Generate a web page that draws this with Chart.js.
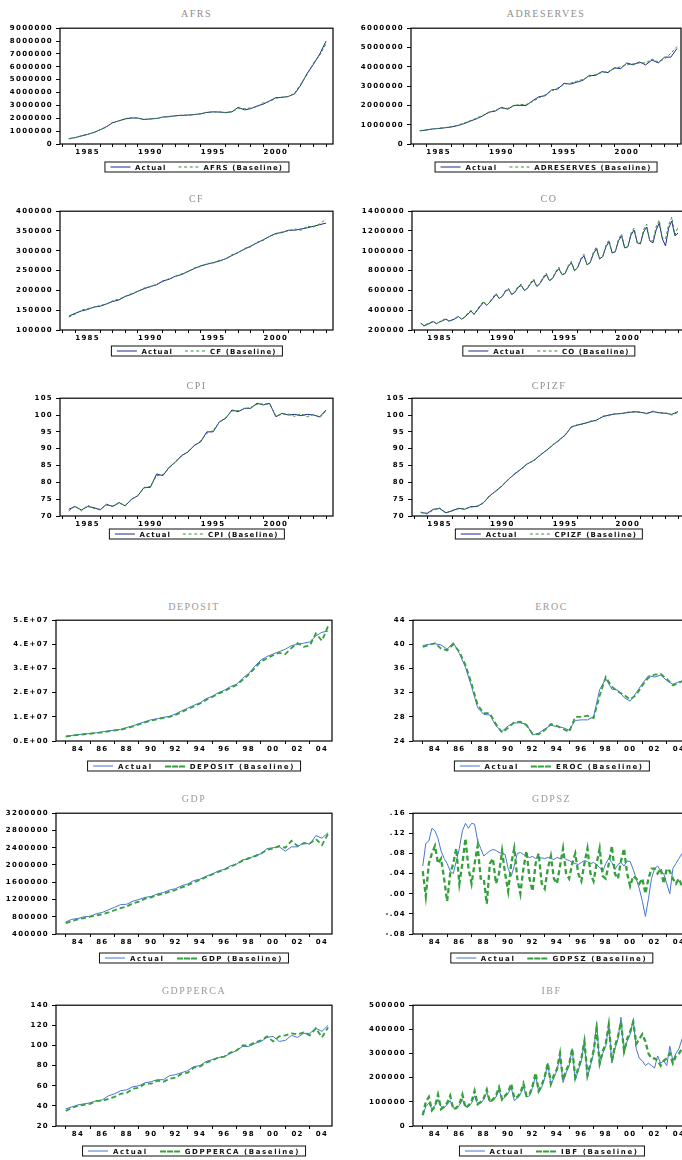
<!DOCTYPE html>
<html>
<head>
<meta charset="utf-8">
<title>Actual vs Baseline</title>
<script src="https://cdn.jsdelivr.net/npm/chart.js@4.4.1/dist/chart.umd.min.js"></script>
<style>
  html, body { margin: 0; padding: 0; background: #fff; }
  #page { position: relative; width: 682px; height: 1160px; overflow: hidden; background: #fff; }
  #page canvas { position: absolute; }
  .ttl { position: absolute; transform: translate(-50%, -50%); font: 10px "Liberation Serif", "DejaVu Serif", serif; color: #8e8e8e; letter-spacing: 1.5px; white-space: nowrap; }
  .lgd { position: absolute; transform: translate(-50%, -50%); box-sizing: border-box; height: 11px; border: 1.5px solid #111; padding: 0 5px; display: flex; align-items: center; white-space: nowrap; font: bold 7px "DejaVu Sans", sans-serif; color: #111; }
  .lgd .smp { display: inline-block; width: 20px; height: 0; margin-right: 5px; }
  .lgd .gap { display: inline-block; width: 12px; }
</style>
</head>
<body>
<div id="page"></div>
<script>
// ---- time axes ----
const topSemiYears = [1983.5, 1984, 1984.5, 1985, 1985.5, 1986, 1986.5, 1987, 1987.5, 1988, 1988.5,
  1989, 1989.5, 1990, 1990.5, 1991, 1991.5, 1992, 1992.5, 1993, 1993.5, 1994, 1994.5, 1995, 1995.5,
  1996, 1996.5, 1997, 1997.5, 1998, 1998.5, 1999, 1999.5, 2000, 2000.5, 2001, 2001.5, 2002, 2002.5,
  2003, 2003.5, 2004];
const topQuarterYears = [1983.5, 1983.75,
  1984, 1984.25, 1984.5, 1984.75, 1985, 1985.25, 1985.5, 1985.75,
  1986, 1986.25, 1986.5, 1986.75, 1987, 1987.25, 1987.5, 1987.75,
  1988, 1988.25, 1988.5, 1988.75, 1989, 1989.25, 1989.5, 1989.75,
  1990, 1990.25, 1990.5, 1990.75, 1991, 1991.25, 1991.5, 1991.75,
  1992, 1992.25, 1992.5, 1992.75, 1993, 1993.25, 1993.5, 1993.75,
  1994, 1994.25, 1994.5, 1994.75, 1995, 1995.25, 1995.5, 1995.75,
  1996, 1996.25, 1996.5, 1996.75, 1997, 1997.25, 1997.5, 1997.75,
  1998, 1998.25, 1998.5, 1998.75, 1999, 1999.25, 1999.5, 1999.75,
  2000, 2000.25, 2000.5, 2000.75, 2001, 2001.25, 2001.5, 2001.75,
  2002, 2002.25, 2002.5, 2002.75, 2003, 2003.25, 2003.5, 2003.75,
  2004];
const botSemiYears = [1983, 1983.5, 1984, 1984.5, 1985, 1985.5, 1986, 1986.5, 1987, 1987.5, 1988,
  1988.5, 1989, 1989.5, 1990, 1990.5, 1991, 1991.5, 1992, 1992.5, 1993, 1993.5, 1994, 1994.5, 1995,
  1995.5, 1996, 1996.5, 1997, 1997.5, 1998, 1998.5, 1999, 1999.5, 2000, 2000.5, 2001, 2001.5, 2002,
  2002.5, 2003, 2003.5, 2004, 2004.5];
const botQuarterYears = [
  1983, 1983.25, 1983.5, 1983.75, 1984, 1984.25, 1984.5, 1984.75,
  1985, 1985.25, 1985.5, 1985.75, 1986, 1986.25, 1986.5, 1986.75,
  1987, 1987.25, 1987.5, 1987.75, 1988, 1988.25, 1988.5, 1988.75,
  1989, 1989.25, 1989.5, 1989.75, 1990, 1990.25, 1990.5, 1990.75,
  1991, 1991.25, 1991.5, 1991.75, 1992, 1992.25, 1992.5, 1992.75,
  1993, 1993.25, 1993.5, 1993.75, 1994, 1994.25, 1994.5, 1994.75,
  1995, 1995.25, 1995.5, 1995.75, 1996, 1996.25, 1996.5, 1996.75,
  1997, 1997.25, 1997.5, 1997.75, 1998, 1998.25, 1998.5, 1998.75,
  1999, 1999.25, 1999.5, 1999.75, 2000, 2000.25, 2000.5, 2000.75,
  2001, 2001.25, 2001.5, 2001.75, 2002, 2002.25, 2002.5, 2002.75,
  2003, 2003.25, 2003.5, 2003.75, 2004, 2004.25, 2004.5, 2004.75];

// x tick marks and labels
const axisYears = [1983, 1984, 1985, 1986, 1987, 1988, 1989, 1990, 1991, 1992, 1993,
  1994, 1995, 1996, 1997, 1998, 1999, 2000, 2001, 2002, 2003, 2004];
const topLabelYears = [1985, 1990, 1995, 2000];
const topLabelText = ['1985', '1990', '1995', '2000'];
const botLabelYears = [1984, 1986, 1988, 1990, 1992, 1994, 1996, 1998, 2000, 2002, 2004];
const botLabelText = ['84', '86', '88', '90', '92', '94', '96', '98', '00', '02', '04'];

// ---- y ticks ----
const afrsTicks = [0, 1000000, 2000000, 3000000, 4000000, 5000000, 6000000, 7000000, 8000000, 9000000];
const afrsTickText = ['0', '1000000', '2000000', '3000000', '4000000', '5000000', '6000000', '7000000', '8000000', '9000000'];
const adresTicks = [0, 1000000, 2000000, 3000000, 4000000, 5000000, 6000000];
const adresTickText = ['0', '1000000', '2000000', '3000000', '4000000', '5000000', '6000000'];
const cfTicks = [100000, 150000, 200000, 250000, 300000, 350000, 400000];
const cfTickText = ['100000', '150000', '200000', '250000', '300000', '350000', '400000'];
const coTicks = [200000, 400000, 600000, 800000, 1000000, 1200000, 1400000];
const coTickText = ['200000', '400000', '600000', '800000', '1000000', '1200000', '1400000'];
const cpiTicks = [70, 75, 80, 85, 90, 95, 100, 105];
const cpiTickText = ['70', '75', '80', '85', '90', '95', '100', '105'];
const depTicks = [0, 10000000, 20000000, 30000000, 40000000, 50000000];
const depTickText = ['0.E+00', '1.E+07', '2.E+07', '3.E+07', '4.E+07', '5.E+07'];
const erocTicks = [24, 28, 32, 36, 40, 44];
const erocTickText = ['24', '28', '32', '36', '40', '44'];
const gdpTicks = [400000, 800000, 1200000, 1600000, 2000000, 2400000, 2800000, 3200000];
const gdpTickText = ['400000', '800000', '1200000', '1600000', '2000000', '2400000', '2800000', '3200000'];
const szTicks = [-0.08, -0.04, 0, 0.04, 0.08, 0.12, 0.16];
const szTickText = ['-.08', '-.04', '.00', '.04', '.08', '.12', '.16'];
const pcTicks = [20, 40, 60, 80, 100, 120, 140];
const pcTickText = ['20', '40', '60', '80', '100', '120', '140'];
const ibfTicks = [0, 100000, 200000, 300000, 400000, 500000];
const ibfTickText = ['0', '100000', '200000', '300000', '400000', '500000'];

// ---- series ----
const afrsActual = [400000, 500000, 620000, 750000, 900000, 1100000, 1350000, 1650000, 1800000, 1950000,
  2020000, 2020000, 1900000, 1950000, 1980000, 2100000, 2120000, 2200000, 2220000, 2250000,
  2280000, 2350000, 2450000, 2500000, 2480000, 2450000, 2500000, 2850000, 2650000, 2750000,
  2950000, 3100000, 3350000, 3600000, 3620000, 3700000, 3900000, 4600000, 5500000, 6200000,
  7000000, 8000000];
const afrsBase = [420000, 490000, 640000, 760000, 880000, 1120000, 1300000, 1700000, 1780000, 1980000,
  2050000, 2000000, 1920000, 1940000, 2000000, 2080000, 2150000, 2180000, 2250000, 2230000,
  2300000, 2330000, 2480000, 2480000, 2500000, 2420000, 2520000, 2750000, 2750000, 2800000,
  2900000, 3200000, 3300000, 3550000, 3650000, 3680000, 3950000, 4700000, 5400000, 6300000,
  6900000, 7800000];

const adresActual = [680000, 720000, 780000, 800000, 840000, 880000, 950000, 1050000, 1180000, 1300000,
  1450000, 1650000, 1700000, 1900000, 1800000, 2000000, 2000000, 2000000, 2250000, 2450000,
  2500000, 2800000, 2850000, 3150000, 3100000, 3200000, 3300000, 3550000, 3550000, 3750000,
  3700000, 3950000, 3900000, 4200000, 4100000, 4250000, 4100000, 4350000, 4200000, 4500000,
  4500000, 4950000];
const adresBase = [700000, 730000, 770000, 820000, 850000, 900000, 970000, 1080000, 1200000, 1330000,
  1480000, 1620000, 1750000, 1850000, 1850000, 1980000, 2050000, 2050000, 2200000, 2400000,
  2550000, 2750000, 2900000, 3100000, 3150000, 3250000, 3350000, 3500000, 3600000, 3700000,
  3750000, 3900000, 4000000, 4100000, 4150000, 4200000, 4200000, 4400000, 4250000, 4400000,
  4700000, 5050000];

const cfActual = [135000, 142000, 148000, 152000, 158000, 160000, 166000, 172000, 176000, 185000,
  190000, 198000, 204000, 210000, 214000, 224000, 228000, 236000, 240000, 248000,
  255000, 262000, 266000, 270000, 274000, 280000, 288000, 296000, 304000, 312000,
  320000, 328000, 336000, 344000, 346000, 352000, 352000, 355000, 358000, 362000,
  366000, 370000];
const cfBase = [133000, 140000, 150000, 154000, 157000, 162000, 165000, 174000, 178000, 184000,
  192000, 197000, 206000, 209000, 216000, 222000, 230000, 235000, 242000, 247000,
  257000, 260000, 268000, 269000, 276000, 279000, 290000, 295000, 306000, 310000,
  322000, 326000, 338000, 342000, 348000, 350000, 355000, 352000, 362000, 360000,
  368000, 380000];

const coActual = [270000, 240000,
  255000, 270000, 285000, 265000, 280000, 295000, 310000, 290000,
  300000, 315000, 335000, 310000, 330000, 360000, 390000, 360000,
  400000, 440000, 480000, 450000, 480000, 520000, 560000, 520000,
  540000, 590000, 610000, 560000, 580000, 630000, 650000, 600000,
  620000, 670000, 700000, 640000, 670000, 720000, 760000, 700000,
  720000, 780000, 820000, 760000, 770000, 840000, 880000, 800000,
  830000, 910000, 950000, 860000, 880000, 970000, 1020000, 920000,
  940000, 1040000, 1090000, 980000, 990000, 1100000, 1150000, 1030000,
  1040000, 1160000, 1210000, 1080000, 1070000, 1190000, 1240000, 1100000,
  1080000, 1210000, 1280000, 1120000, 1050000, 1230000, 1300000, 1150000,
  1180000];
const coBase = [265000, 250000,
  260000, 275000, 290000, 260000, 285000, 300000, 315000, 285000,
  305000, 320000, 340000, 305000, 335000, 370000, 400000, 355000,
  410000, 450000, 490000, 445000, 485000, 530000, 570000, 515000,
  545000, 600000, 620000, 555000, 585000, 640000, 665000, 595000,
  625000, 680000, 715000, 635000, 675000, 735000, 775000, 695000,
  725000, 790000, 835000, 755000, 775000, 850000, 895000, 795000,
  835000, 920000, 965000, 855000, 885000, 985000, 1040000, 915000,
  945000, 1055000, 1110000, 975000, 995000, 1115000, 1170000, 1025000,
  1045000, 1180000, 1230000, 1075000, 1080000, 1210000, 1270000, 1100000,
  1100000, 1240000, 1310000, 1130000, 1120000, 1260000, 1340000, 1160000,
  1240000];

const cpiActual = [72.0, 72.8, 71.8, 72.8, 72.5, 71.8, 73.5, 72.8, 74.0, 73.0,
  75.0, 76.0, 78.5, 78.5, 82.5, 82.0, 84.5, 86.0, 88.0, 89.0,
  91.0, 92.0, 95.0, 95.0, 98.0, 99.0, 101.5, 101.0, 102.0, 102.0,
  103.5, 103.0, 103.5, 99.5, 100.5, 100.0, 100.2, 99.8, 100.2, 100.0,
  99.5, 101.5];
const cpiBase = [71.5, 73.0, 71.5, 73.2, 72.2, 72.0, 73.2, 73.0, 73.8, 73.2,
  74.8, 76.2, 78.3, 78.8, 82.0, 82.3, 84.2, 86.3, 87.8, 89.2,
  90.8, 92.3, 94.6, 95.4, 97.8, 99.2, 101.2, 101.3, 101.8, 102.3,
  103.2, 103.3, 103.2, 99.8, 100.2, 100.3, 99.6, 100.4, 99.5, 100.2,
  99.2, 101.3];

const cpizfActual = [71.0, 70.8, 72.0, 72.2, 71.0, 71.5, 72.3, 72.0, 72.8, 72.8,
  74.0, 76.0, 77.5, 79.0, 81.0, 82.5, 84.0, 85.5, 86.5, 88.0,
  89.5, 91.0, 92.5, 94.0, 96.5, 97.0, 97.5, 98.0, 98.5, 99.5,
  100.0, 100.3, 100.5, 100.7, 101.0, 100.8, 100.5, 101.0, 100.7, 100.5,
  100.2, 101.0];
const cpizfBase = [71.2, 70.6, 71.8, 72.4, 70.8, 71.7, 72.1, 72.2, 72.6, 73.0,
  73.8, 76.2, 77.3, 79.2, 80.8, 82.7, 83.8, 85.7, 86.3, 88.2,
  89.3, 91.2, 92.3, 94.2, 96.3, 97.2, 97.3, 98.2, 98.3, 99.7,
  99.8, 100.5, 100.3, 100.9, 100.8, 101.0, 100.3, 101.2, 100.5, 100.7,
  100.0, 100.8];

const depActual = [2000000, 2300000, 2600000, 2900000, 3100000, 3400000, 3800000, 4200000, 4500000, 4800000,
  5600000, 6300000, 7200000, 8000000, 8800000, 9200000, 9800000, 10200000, 11200000, 12500000,
  13600000, 14800000, 15800000, 17500000, 18500000, 20000000, 21000000, 22500000, 23500000, 26000000,
  28000000, 31000000, 33500000, 35000000, 36000000, 37000000, 38000000, 39500000, 40000000, 40500000,
  41000000, 43500000, 45000000, 45500000];
const depBase = [1800000, 2200000, 2500000, 2800000, 3000000, 3300000, 3600000, 4000000, 4400000, 4600000,
  5300000, 6000000, 6900000, 7700000, 8500000, 9000000, 9600000, 10000000, 10800000, 12000000,
  13200000, 14300000, 15500000, 17000000, 18200000, 19600000, 20600000, 22000000, 23200000, 25300000,
  27500000, 30200000, 33000000, 34200000, 35500000, 36500000, 36000000, 38500000, 40500000, 39000000,
  39500000, 44500000, 41500000, 47500000];

const erocActual = [39.8, 40.0, 40.1, 39.9, 39.2, 40.3, 38.5, 36.2, 33.0, 29.5,
  28.4, 28.3, 26.5, 25.6, 26.5, 27.0, 27.0, 26.8, 25.0, 25.3,
  26.0, 26.6, 26.4, 26.2, 25.8, 27.4, 27.5, 27.5, 28.0, 32.5,
  34.3, 32.6, 32.4, 31.2, 30.6, 32.0, 33.5, 34.8, 34.6, 34.9,
  34.0, 33.4, 33.8, 34.0];
const erocBase = [39.6, 39.9, 40.2, 39.3, 39.0, 40.0, 38.8, 36.6, 33.5, 30.0,
  28.6, 28.6, 26.8, 25.4, 26.2, 27.1, 27.2, 26.6, 25.2, 25.1,
  25.8, 26.8, 26.5, 26.0, 25.5, 28.0, 28.0, 28.2, 27.8, 31.5,
  34.6, 33.0, 32.2, 31.6, 30.9, 31.6, 33.2, 34.5, 35.0, 35.1,
  34.3, 33.2, 33.6, 34.2];

const gdpActual = [680000, 740000, 760000, 800000, 810000, 870000, 900000, 960000, 1020000, 1080000,
  1090000, 1160000, 1200000, 1250000, 1270000, 1330000, 1360000, 1420000, 1450000, 1520000,
  1560000, 1640000, 1670000, 1740000, 1790000, 1860000, 1900000, 1980000, 2020000, 2120000,
  2140000, 2220000, 2260000, 2380000, 2400000, 2420000, 2320000, 2420000, 2420000, 2520000,
  2480000, 2680000, 2620000, 2750000];
const gdpBase = [650000, 700000, 740000, 770000, 800000, 830000, 860000, 900000, 950000, 1000000,
  1040000, 1110000, 1150000, 1220000, 1250000, 1300000, 1330000, 1380000, 1420000, 1480000,
  1530000, 1600000, 1650000, 1720000, 1780000, 1840000, 1890000, 1960000, 2020000, 2100000,
  2160000, 2200000, 2260000, 2350000, 2380000, 2440000, 2400000, 2560000, 2440000, 2500000,
  2500000, 2600000, 2460000, 2720000];

const szActual = [
  0.055, 0.100, 0.105, 0.130, 0.125, 0.110, 0.085, 0.070,
  0.060, 0.045, 0.040, 0.065, 0.090, 0.125, 0.140, 0.130,
  0.140, 0.138, 0.105, 0.090, 0.075, 0.080, 0.085, 0.088,
  0.086, 0.082, 0.080, 0.078, 0.050, 0.035, 0.055, 0.080,
  0.082, 0.078, 0.075, 0.072, 0.074, 0.070, 0.072, 0.071,
  0.070, 0.072, 0.070, 0.068, 0.072, 0.070, 0.074, 0.068,
  0.066, 0.062, 0.060, 0.058, 0.062, 0.066, 0.064, 0.060,
  0.062, 0.058, 0.052, 0.044, 0.060, 0.070, 0.062, 0.048,
  0.058, 0.062, 0.055, 0.065, 0.064, 0.048, 0.030, 0.010,
  -0.015, -0.045, -0.010, 0.030, 0.050, 0.055, 0.045, 0.040,
  0.020, 0.000, 0.050, 0.060, 0.070, 0.080, 0.060, 0.035];
const szBase = [
  0.045, -0.005, 0.060, 0.080, 0.095, 0.060, 0.070, 0.030,
  -0.015, 0.040, 0.060, 0.090, 0.020, 0.060, 0.110, 0.050,
  0.020, 0.060, 0.095, 0.030, 0.030, -0.020, 0.060, 0.070,
  0.020, 0.040, 0.085, 0.040, 0.005, 0.060, 0.090, 0.030,
  0.000, 0.050, 0.085, 0.030, 0.005, 0.060, 0.080, 0.020,
  0.010, 0.050, 0.075, 0.030, 0.020, 0.055, 0.090, 0.040,
  0.030, 0.060, 0.080, 0.040, 0.025, 0.060, 0.090, 0.040,
  0.025, 0.060, 0.090, 0.035, 0.030, 0.060, 0.095, 0.040,
  0.030, 0.065, 0.090, 0.040, 0.015, 0.035, 0.030, 0.020,
  0.030, 0.000, 0.030, 0.050, 0.050, 0.040, 0.050, 0.020,
  0.050, 0.045, 0.030, 0.020, 0.030, 0.015, 0.010, 0.010];

const pcActual = [37, 39, 41, 42, 43, 45, 46, 50, 52, 55,
  56, 59, 60, 63, 64, 66, 66, 70, 71, 73,
  75, 79, 80, 84, 86, 88, 89, 92, 95, 99,
  99, 102, 104, 108, 109, 104, 105, 110, 108, 112,
  112, 117, 114, 120];
const pcBase = [35, 38, 40, 41, 42, 45, 45, 47, 49, 52,
  53, 57, 58, 62, 62, 65, 64, 67, 68, 72,
  73, 78, 79, 83, 85, 88, 89, 93, 95, 100,
  100, 103, 105, 109, 104, 109, 110, 112, 111, 113,
  110, 117, 108, 118];

const ibfActual = [
  45000, 80000, 95000, 70000, 85000, 110000, 80000, 75000,
  90000, 105000, 75000, 70000, 85000, 110000, 80000, 80000,
  95000, 125000, 90000, 95000, 110000, 140000, 100000, 105000,
  120000, 150000, 110000, 120000, 135000, 160000, 105000, 115000,
  130000, 165000, 120000, 125000, 160000, 210000, 140000, 160000,
  200000, 260000, 170000, 200000, 230000, 290000, 180000, 220000,
  250000, 320000, 190000, 230000, 270000, 350000, 200000, 250000,
  300000, 430000, 250000, 300000, 330000, 420000, 260000, 320000,
  360000, 450000, 300000, 350000, 380000, 440000, 320000, 280000,
  270000, 250000, 260000, 250000, 240000, 290000, 260000, 270000,
  250000, 330000, 270000, 300000, 320000, 360000, 380000, 430000];
const ibfBase = [
  45000, 100000, 120000, 65000, 80000, 130000, 70000, 80000,
  95000, 125000, 70000, 75000, 90000, 130000, 75000, 85000,
  100000, 145000, 90000, 100000, 115000, 150000, 100000, 110000,
  125000, 160000, 110000, 125000, 140000, 175000, 115000, 120000,
  135000, 175000, 125000, 130000, 165000, 220000, 145000, 170000,
  205000, 260000, 175000, 210000, 235000, 300000, 190000, 230000,
  255000, 320000, 200000, 240000, 280000, 350000, 210000, 260000,
  310000, 400000, 260000, 310000, 340000, 420000, 270000, 330000,
  370000, 430000, 310000, 360000, 390000, 430000, 340000, 360000,
  380000, 350000, 300000, 280000, 280000, 270000, 250000, 270000,
  280000, 300000, 260000, 290000, 300000, 320000, 310000, 330000];

// ---- panels ----
const panels = [
  { name: 'AFRS', row: 0, col: 0, x: topSemiYears, actual: afrsActual, base: afrsBase, ticks: afrsTicks, tickText: afrsTickText },
  { name: 'ADRESERVES', row: 0, col: 1, x: topSemiYears, actual: adresActual, base: adresBase, ticks: adresTicks, tickText: adresTickText },
  { name: 'CF', row: 1, col: 0, x: topSemiYears, actual: cfActual, base: cfBase, ticks: cfTicks, tickText: cfTickText },
  { name: 'CO', row: 1, col: 1, x: topQuarterYears, actual: coActual, base: coBase, ticks: coTicks, tickText: coTickText },
  { name: 'CPI', row: 2, col: 0, x: topSemiYears, actual: cpiActual, base: cpiBase, ticks: cpiTicks, tickText: cpiTickText },
  { name: 'CPIZF', row: 2, col: 1, x: topSemiYears, actual: cpizfActual, base: cpizfBase, ticks: cpiTicks, tickText: cpiTickText },
  { name: 'DEPOSIT', row: 3, col: 0, x: botSemiYears, actual: depActual, base: depBase, ticks: depTicks, tickText: depTickText },
  { name: 'EROC', row: 3, col: 1, x: botSemiYears, actual: erocActual, base: erocBase, ticks: erocTicks, tickText: erocTickText },
  { name: 'GDP', row: 4, col: 0, x: botSemiYears, actual: gdpActual, base: gdpBase, ticks: gdpTicks, tickText: gdpTickText },
  { name: 'GDPSZ', row: 4, col: 1, x: botQuarterYears, actual: szActual, base: szBase, ticks: szTicks, tickText: szTickText, thick: true },
  { name: 'GDPPERCA', row: 5, col: 0, x: botSemiYears, actual: pcActual, base: pcBase, ticks: pcTicks, tickText: pcTickText },
  { name: 'IBF', row: 5, col: 1, x: botQuarterYears, actual: ibfActual, base: ibfBase, ticks: ibfTicks, tickText: ibfTickText, thick: true }
];

// layout of the page (pixels)
const rows = [
  { top: 27, bottom: 144, title: 13, legend: 167 },
  { top: 210, bottom: 330, title: 198, legend: 351 },
  { top: 397, bottom: 516, title: 385, legend: 534 },
  { top: 619, bottom: 741, title: 606, legend: 766 },
  { top: 812, bottom: 934, title: 798, legend: 958 },
  { top: 1004, bottom: 1126, title: 990, legend: 1151 }
];
const cols = [
  [[60, 333], [411, 681]],
  [[60, 333], [412, 686]],
  [[60, 333], [412, 686]],
  [[56, 332], [413, 690]],
  [[56, 332], [413, 690]],
  [[56, 332], [413, 690]]
];

const page = document.getElementById('page');
const tickFont = { family: '"DejaVu Sans", sans-serif', size: 7, weight: 'bold' };

const framePlugin = {
  id: 'frame',
  beforeDraw(chart) { chart.ctx.letterSpacing = '1.3px'; },
  afterDraw(chart) {
    const a = chart.chartArea, ctx = chart.ctx;
    ctx.save();
    ctx.strokeStyle = '#000';
    ctx.lineWidth = 1.2;
    ctx.strokeRect(a.left, a.top, a.right - a.left, a.bottom - a.top);
    ctx.restore();
  }
};

function addText(cls, text, x, y) {
  const d = document.createElement('div');
  d.className = cls;
  d.textContent = text;
  d.style.left = x + 'px';
  d.style.top = y + 'px';
  page.appendChild(d);
  return d;
}

function addLegend(p, cx, cy, colors) {
  const d = document.createElement('div');
  d.className = 'lgd';
  d.style.left = cx + 'px';
  d.style.top = cy + 'px';
  d.style.letterSpacing = p.row < 3 ? '1.1px' : '1.6px';
  const s1 = document.createElement('span');
  s1.className = 'smp';
  s1.style.borderTop = '1px solid ' + colors.actual;
  d.appendChild(s1);
  d.appendChild(document.createTextNode('Actual'));
  const g = document.createElement('span');
  g.className = 'gap';
  d.appendChild(g);
  const s2 = document.createElement('span');
  s2.className = 'smp';
  s2.style.borderTop = (p.row < 3 ? 1 : 2) + 'px dashed ' + colors.base;
  d.appendChild(s2);
  d.appendChild(document.createTextNode(p.name + ' (Baseline)'));
  page.appendChild(d);
}

panels.forEach(p => {
  const r = rows[p.row];
  const [left, right] = cols[p.row][p.col];
  const top = p.row < 3;
  const yw = (p.row >= 3 && p.col === 0) ? 54 : 58;
  const padT = 6, padR = 6, xh = 22;
  const cl = left - yw, ct = r.top - padT;
  const cw = right + padR - cl, ch = r.bottom - r.top + padT + xh;

  const cv = document.createElement('canvas');
  cv.width = cw; cv.height = ch;
  cv.style.left = cl + 'px'; cv.style.top = ct + 'px';
  cv.style.width = cw + 'px'; cv.style.height = ch + 'px';
  page.appendChild(cv);

  const colors = top ? { actual: '#1f2a90', base: '#3a8c3a' } : { actual: '#4677d2', base: '#33a03c' };
  const labelYears = top ? topLabelYears : botLabelYears;
  const labelText = top ? topLabelText : botLabelText;
  const xmin = top ? 1982.8 : 1982.2;
  const xmax = xmin + (right - left) / (top ? 12.55 : 12.2);

  const baseWidth = top ? 1 : (p.thick ? 2.3 : 1.8);
  const baseDash = top ? [3, 2] : [5, 3];

  new Chart(cv, {
    type: 'line',
    data: {
      datasets: [
        {
          label: p.name + ' (Baseline)',
          data: p.base.map((v, i) => ({ x: p.x[i], y: v })),
          borderColor: colors.base, borderWidth: baseWidth, borderDash: baseDash,
          pointRadius: 0, tension: 0, fill: false, order: 0
        },
        {
          label: 'Actual',
          data: p.actual.map((v, i) => ({ x: p.x[i], y: v })),
          borderColor: colors.actual, borderWidth: 1,
          pointRadius: 0, tension: 0, fill: false, order: 1
        }
      ]
    },
    options: {
      responsive: false,
      animation: false,
      events: [],
      layout: { padding: { left: 0, top: padT, right: padR, bottom: 0 } },
      plugins: { legend: { display: false }, title: { display: false }, tooltip: { enabled: false } },
      scales: {
        x: {
          type: 'linear', min: xmin, max: xmax,
          afterBuildTicks: s => { s.ticks = axisYears.map(v => ({ value: v })); },
          afterFit: s => { s.height = xh; },
          ticks: {
            autoSkip: false, maxRotation: 0, padding: 1, color: '#000', font: tickFont,
            callback: v => { const i = labelYears.indexOf(v); return i < 0 ? '' : labelText[i]; }
          },
          grid: {
            drawOnChartArea: false, drawTicks: true, tickLength: 3, lineWidth: 1,
            tickColor: c => (c.tick && labelYears.includes(c.tick.value)) ? 'rgba(0,0,0,0)' : '#000'
          },
          border: { display: false }
        },
        y: {
          type: 'linear', min: p.ticks[0], max: p.ticks[p.ticks.length - 1],
          afterBuildTicks: s => { s.ticks = p.ticks.map(v => ({ value: v })); },
          afterFit: s => { s.width = yw; },
          ticks: {
            padding: 3, color: '#000', font: tickFont,
            callback: v => { const i = p.ticks.indexOf(v); return i < 0 ? '' : p.tickText[i]; }
          },
          grid: { drawOnChartArea: false, drawTicks: true, tickLength: 4, lineWidth: 1, tickColor: '#000' },
          border: { display: false }
        }
      }
    },
    plugins: [framePlugin]
  });

  const cx = (left + right) / 2;
  const t = addText('ttl', p.name, cx, r.title);
  if (!top) t.style.color = '#9a9a9a';
  addLegend(p, cx, r.legend, colors);
});
</script>
</body>
</html>
